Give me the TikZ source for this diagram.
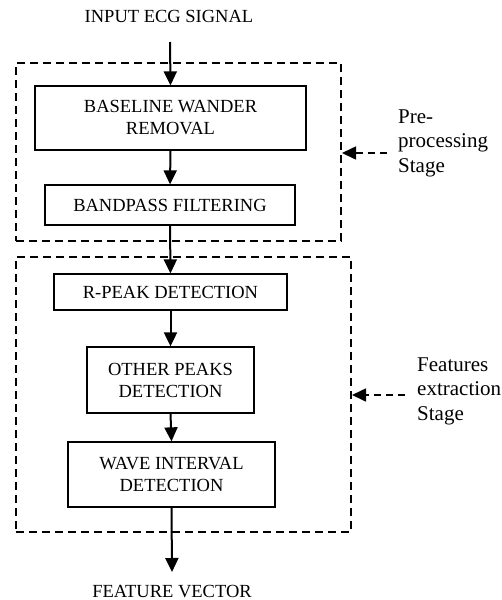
\documentclass[tikz,border=0pt]{standalone}
\usepackage{fontspec}
\setmainfont{Liberation Serif}
\usetikzlibrary{arrows.meta}
\begin{document}
\begin{tikzpicture}[x=1pt,y=-1pt,
  stagebox/.style={draw,line width=1.3pt,align=center,inner sep=0pt,
    font=\fontsize{18.5}{22}\selectfont},
  group/.style={draw,line width=2pt,dash pattern=on 8pt off 5pt,inner sep=0pt},
  flow/.style={line width=2pt,-{Triangle[length=14pt,width=13pt]}},
  note/.style={line width=1.6pt,dash pattern=on 7pt off 5pt,-{Triangle[length=14pt,width=13pt]}},
  plain/.style={font=\fontsize{18.5}{22}\selectfont,inner sep=0pt},
  side/.style={font=\fontsize{21}{24.5}\selectfont,align=left,inner sep=0pt,anchor=west}]
\useasboundingbox (0,0) rectangle (502,600);

% dashed stage frames
\node[group,minimum width=325pt,minimum height=178pt] (pre) at (178.5,152) {};
\node[group,minimum width=335pt,minimum height=275pt] (feat) at (183.5,394.5) {};

% processing blocks
\node[stagebox,minimum width=271pt,minimum height=64pt] (bwr) at (170.5,118) {BASELINE WANDER\\REMOVAL};
\node[stagebox,minimum width=250pt,minimum height=40pt] (bf) at (170,205) {BANDPASS FILTERING};
\node[stagebox,minimum width=233pt,minimum height=36pt] (rp) at (170.5,292) {R-PEAK DETECTION};
\node[stagebox,minimum width=167pt,minimum height=66pt] (op) at (170.5,380) {OTHER PEAKS\\DETECTION};
\node[stagebox,minimum width=207pt,minimum height=65pt] (wi) at (171.5,474.5) {WAVE INTERVAL\\DETECTION};

% input and output labels
\node[plain] (in) at (169,16) {INPUT ECG SIGNAL};
\node[plain,anchor=base] (out) at (172,597) {FEATURE VECTOR};
\coordinate (inend) at (170,42);
\coordinate (outend) at (172,572);

% main flow
\draw[flow] (inend) -- (bwr.north);
\draw[flow] (bwr.south) -- (bf.north);
\draw[flow] (bf.south) -- (rp.north);
\draw[flow] (rp.south) -- (op.north);
\draw[flow] (op.south) -- (wi.north);
\draw[flow] (wi.south) -- (outend);

% stage annotations
\node[side] (prelbl) at (398,143) {Pre-\\processing\\Stage};
\node[side] (featlbl) at (417,391) {Features\\extraction\\Stage};
\coordinate (prestart) at (387,153);
\coordinate (featstart) at (405,395);
\draw[note] (prestart) -- (pre.east |- prestart);
\draw[note] (featstart) -- (feat.east |- featstart);
\end{tikzpicture}
\end{document}
